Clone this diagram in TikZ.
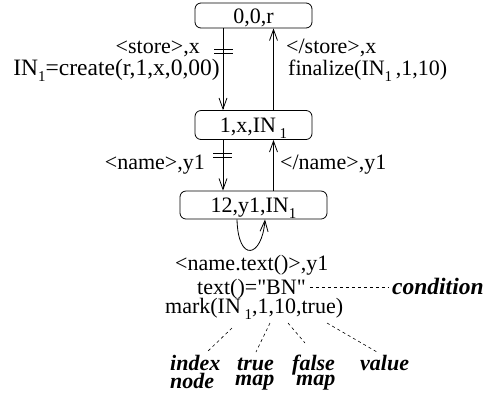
\documentclass[tikz,border=0pt]{standalone}
\usepackage{fontspec}
\setmainfont{Liberation Serif}[Ligatures=TeXOff]
\usetikzlibrary{arrows.meta}
% lowered subscript "1" used after IN
\newcommand{\subone}{\raisebox{-0.28em}{\fontsize{15bp}{15bp}\selectfont 1}}

\begin{document}
\begin{tikzpicture}[x=1bp,y=-1bp,
  font=\fontsize{22bp}{24bp}\selectfont,
  state/.style={draw,rounded corners=6bp,line width=0.8bp,minimum width=117bp,
    minimum height=25bp,inner sep=0pt,text height=15bp,text depth=0bp},
  arr/.style={line width=0.8bp,-{Straight Barb[length=11bp,width=8bp]}},
  lbl/.style={inner sep=0pt},
  note/.style={inner sep=0pt,font=\fontsize{22bp}{24bp}\selectfont\bfseries\itshape},
  hint/.style={dash pattern=on 3bp off 3bp,line width=0.6bp},
  tickmark/.style={line width=0.8bp}]

\useasboundingbox (0,0) rectangle (494,393);

% states
\node[state] (b1) at (253.5,15.5) {0,0,r};
\node[state,minimum height=29bp] (b2) at (253.5,125) {1,x,IN\,\subone};
\node[state,minimum width=147bp,minimum height=28bp] (b3) at (253.5,205) {12,y1,IN\subone};

% transitions
\draw[arr] ([xshift=-30.5bp]b1.south) -- ([xshift=-30.5bp]b2.north);
\draw[arr] ([xshift=20bp]b2.north) -- ([xshift=20bp]b1.south);
\draw[arr] ([xshift=-30.5bp]b2.south) -- ([xshift=-30.5bp]b3.north);
\draw[arr] ([xshift=20bp]b3.north) -- ([xshift=20bp]b2.south);
\draw[arr] ([xshift=-16.5bp]b3.south) .. controls (238,263) and (262,258) .. ([xshift=11.5bp]b3.south);

% double bars on the opening transitions
\draw[tickmark] (214,49.5) -- (233,49.5) (214,53.5) -- (233,53.5);
\draw[tickmark] (213,153) -- (232,153) (213,157) -- (232,157);

% transition labels
\node[lbl,anchor=base east] (l1) at (200,53) {<store>,x};
\node[lbl,anchor=base east,font=\fontsize{23.5bp}{24bp}\selectfont] (l2) at (220,75) {IN\subone=create(r,1,x,0,00)};
\node[lbl,anchor=base west] (r1) at (286,53) {</store>,x};
\node[lbl,anchor=base west] (r2) at (288,75) {finalize(IN\subone\,,1,10)};
\node[lbl,anchor=base east] (l3) at (205,169) {<name>,y1};
\node[lbl,anchor=base west] (r3) at (280,169) {</name>,y1};
\node[lbl,anchor=base west] (e1) at (175,270) {<name.text()>,y1};
\node[lbl,anchor=base west] (e2) at (197,294) {text()="BN"};
\node[lbl,anchor=base west] (e3) at (165,313) {mark(IN\,\subone,1,10,true)};

% annotations
\node[note,anchor=base west,font=\fontsize{23.5bp}{24bp}\selectfont\bfseries\itshape] (cond) at (392,294) {condition};
\node[note,anchor=base west] (n1) at (170,370) {index};
\node[note,anchor=base west] (n1b) at (170,388.5) {node};
\node[note,anchor=base west] (n2) at (237,370) {true};
\node[note,anchor=base west] (n2b) at (235,385) {map};
\node[note,anchor=base west] (n3) at (292,370) {false};
\node[note,anchor=base west] (n3b) at (296,385) {map};
\node[note,anchor=base west] (n4) at (360,370) {value};

% dashed leaders from the arguments to their meanings
\draw[hint] ([xshift=4bp,yshift=7bp]e2.base east) -- ([xshift=-4bp,yshift=7bp]cond.base west);
\coordinate (i0) at (232,328); \coordinate (i1) at (207,352);
\coordinate (t0) at (270,323); \coordinate (t1) at (256,352);
\coordinate (f0) at (288,323); \coordinate (f1) at (305,343);
\coordinate (v0) at (327,323); \coordinate (v1) at (377,352);
\draw[hint] (i0) -- (i1);
\draw[hint] (t0) -- (t1);
\draw[hint] (f0) -- (f1);
\draw[hint] (v0) -- (v1);
\end{tikzpicture}
\end{document}
